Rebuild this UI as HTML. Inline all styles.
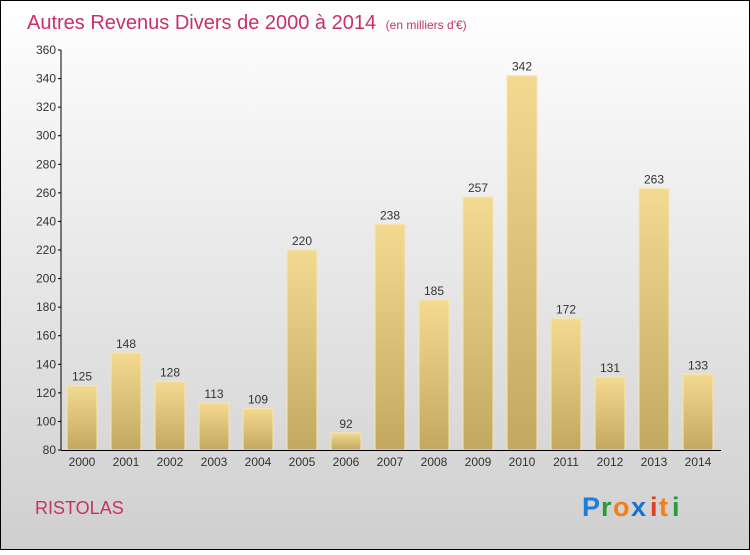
<!DOCTYPE html>
<html><head><meta charset="utf-8"><style>
html,body{margin:0;padding:0;}
body{width:750px;height:550px;overflow:hidden;font-family:"Liberation Sans",sans-serif;}
</style></head><body>
<svg width="750" height="550" xmlns="http://www.w3.org/2000/svg">
<defs>
<linearGradient id="bg" x1="0" y1="0" x2="0" y2="1"><stop offset="0" stop-color="#ffffff"/><stop offset="1" stop-color="#cfcfcf"/></linearGradient>
<linearGradient id="bar" x1="0" y1="0" x2="0" y2="1"><stop offset="0" stop-color="#f4da90"/><stop offset="1" stop-color="#c3a85f"/></linearGradient>
</defs>
<rect x="0.5" y="0.5" width="749" height="549" fill="url(#bg)" stroke="#000"/>
<text x="27" y="29" font-size="20" fill="#c8306a">Autres Revenus Divers de 2000 à 2014 <tspan font-size="12" dx="4">(en milliers d'€)</tspan></text>
<g id="plot"></g>
<text x="35" y="514" font-size="18" fill="#c8306a">RISTOLAS</text>
<g font-size="27" font-weight="bold" font-family="'Liberation Sans',sans-serif">
<text x="582" y="516" fill="#1a7fd6">P</text><text x="601" y="516" fill="#2a9a3a">r</text><text x="613" y="516" fill="#f07f1a">o</text><text x="631" y="516" fill="#1a6fd0">x</text><text x="650" y="516" fill="#e04020">i</text><text x="659" y="516" fill="#f07f1a">t</text><text x="672" y="516" fill="#2a9a3a">i</text>
</g>
</svg>
<script>
const categories=["2000","2001","2002","2003","2004","2005","2006","2007","2008","2009","2010","2011","2012","2013","2014"];
const values=[125,148,128,113,109,220,92,238,185,257,342,172,131,263,133];
const yTicks=[80,100,120,140,160,180,200,220,240,260,280,300,320,340,360];
const NS="http://www.w3.org/2000/svg";
const g=document.getElementById('plot');
const y0=450,y1=50,vmin=80,vmax=360;
function y(v){return y0-(v-vmin)/(vmax-vmin)*(y0-y1);}
function x(i){return 82+i*44;}
function mk(t,a,txt){const e=document.createElementNS(NS,t);for(const k in a)e.setAttribute(k,a[k]);if(txt!==undefined)e.textContent=txt;g.appendChild(e);return e;}
values.forEach((v,i)=>{
 const r=mk('rect',{x:x(i)-15,y:y(v),width:30,height:y0-y(v),fill:'url(#bar)',stroke:'#f6e6b0','stroke-width':1});
 
 
 const t=mk('text',{x:x(i),y:y(v)-5,'text-anchor':'middle','font-size':12,fill:'#333'},String(v));
 
 
 const c=mk('text',{x:x(i),y:466,'text-anchor':'middle','font-size':12,fill:'#333'},categories[i]);
 
 
});
const ya=mk('line',{x1:61,y1:50,x2:61,y2:450,stroke:'#000'});


const xa=mk('line',{x1:61,y1:450.5,x2:721,y2:450.5,stroke:'#000'});


yTicks.forEach(v=>{
 mk('line',{x1:58,y1:y(v),x2:61,y2:y(v),stroke:'#000'});
 const t=mk('text',{x:56,y:y(v)+4,'text-anchor':'end','font-size':12,fill:'#333'},String(v));
 
 
});
</script>
</body></html>
